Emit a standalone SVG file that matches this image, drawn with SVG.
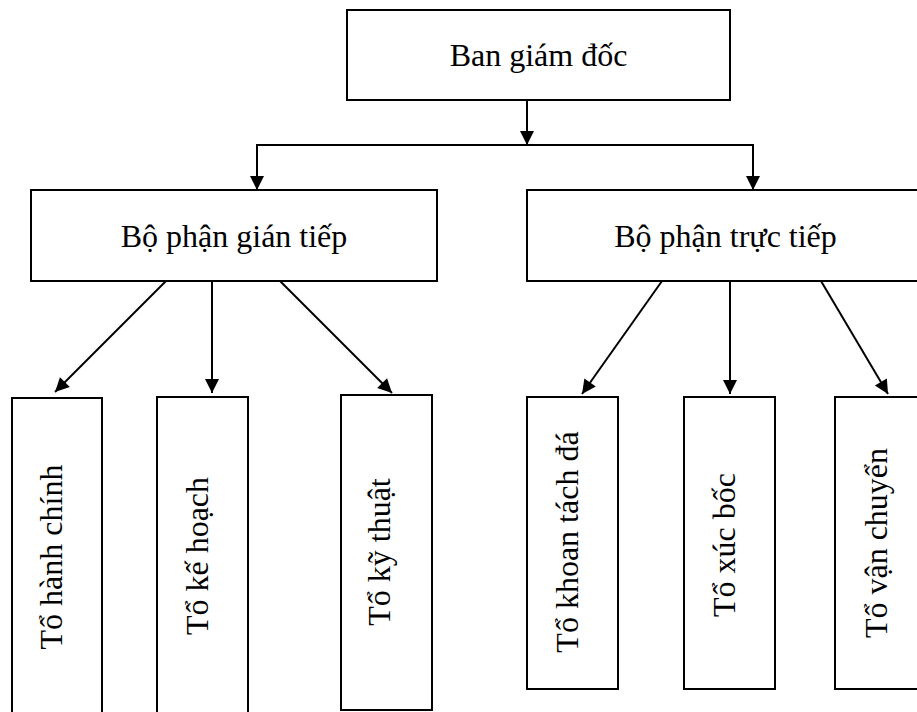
<svg xmlns="http://www.w3.org/2000/svg" width="917" height="712" viewBox="0 0 917 712">
<style>
.box{fill:#fff;stroke:#000;stroke-width:2}
.t{font-family:"Liberation Serif","Times New Roman",serif;font-size:32px;fill:#000;text-anchor:middle}
.c{fill:none;stroke:#000;stroke-width:2}
</style>
<defs>
<marker id="ah" markerUnits="userSpaceOnUse" markerWidth="16" markerHeight="16" viewBox="0 0 16 16" refX="15" refY="8" orient="auto">
<path d="M1,1 L15,8 L1,15 Z" fill="#000"/>
</marker>
</defs>
<rect width="917" height="712" fill="#fff"/>
<g id="n-bgd"><rect class="box" x="347" y="10" width="383" height="90"/><text class="t" x="538.5" y="66">Ban giám đốc</text></g>
<g id="n-gt"><rect class="box" x="31" y="190" width="406" height="91"/><text class="t" x="234" y="247">Bộ phận gián tiếp</text></g>
<g id="n-tt"><rect class="box" x="527" y="190" width="400" height="91"/><text class="t" x="725.5" y="247">Bộ phận trực tiếp</text></g>
<g id="n-hc"><rect class="box" x="12" y="398" width="90" height="320"/><text class="t" x="62" y="557" transform="rotate(-90 62 557)">Tổ hành chính</text></g>
<g id="n-kh"><rect class="box" x="157" y="397" width="91" height="321"/><text class="t" x="208" y="556" transform="rotate(-90 208 556)">Tổ kế hoạch</text></g>
<g id="n-kt"><rect class="box" x="341" y="395" width="91" height="315"/><text class="t" x="390" y="552" transform="rotate(-90 390 552)">Tổ kỹ thuật</text></g>
<g id="n-ktd"><rect class="box" x="527" y="397" width="91" height="292"/><text class="t" x="578" y="542" transform="rotate(-90 578 542)">Tổ khoan tách đá</text></g>
<g id="n-xb"><rect class="box" x="684" y="397" width="91" height="292"/><text class="t" x="735" y="545" transform="rotate(-90 735 545)">Tổ xúc bốc</text></g>
<g id="n-vc"><rect class="box" x="835" y="397" width="100" height="292"/><text class="t" x="887" y="543" transform="rotate(-90 887 543)">Tổ vận chuyển</text></g>
<g id="connectors">
<path class="c" d="M527,100 V145" marker-end="url(#ah)"/>
<path class="c" d="M527,145 H257 V190" marker-end="url(#ah)"/>
<path class="c" d="M527,145 H753 V190" marker-end="url(#ah)"/>
<path class="c" d="M166,281 L55,392" marker-end="url(#ah)"/>
<path class="c" d="M212,281 V393" marker-end="url(#ah)"/>
<path class="c" d="M280,281 L392,393" marker-end="url(#ah)"/>
<path class="c" d="M662,281 L582,394" marker-end="url(#ah)"/>
<path class="c" d="M730,281 V394" marker-end="url(#ah)"/>
<path class="c" d="M821,281 L888,394" marker-end="url(#ah)"/>
</g>
</svg>
